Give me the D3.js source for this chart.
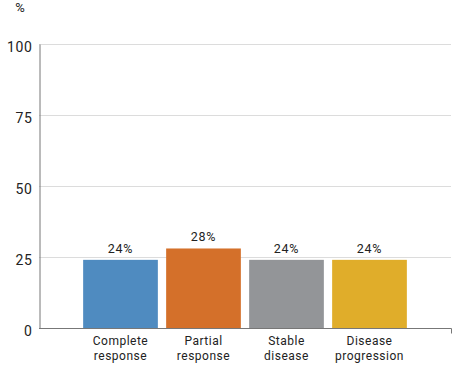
<!DOCTYPE html>
<html><head><meta charset="utf-8">
<script src="https://cdn.jsdelivr.net/npm/d3@7"></script>
<style>body{margin:0;background:#fff}svg text{font-family:Roboto,"DejaVu Sans",sans-serif;fill:#222}</style>
</head><body><svg id="c" width="459" height="369"></svg>
<script>
const categories = [["Complete","response"],["Partial","response"],["Stable","disease"],["Disease","progression"]];
const values = [24, 28, 24, 24];
const colors = ["#4F8BC0", "#D4702A", "#939598", "#E0AD2A"];
const yTicks = [0, 25, 50, 75, 100];

const svg = d3.select("#c");
const y = d3.scaleLinear().domain([0, 100]).range([328, 44]);
const x = d3.scaleBand().domain(d3.range(values.length)).range([79, 411]).paddingInner(0.1).paddingOuter(0.05);

// grid
svg.selectAll("line.grid").data(yTicks.filter(d => d > 0)).join("line")
  .attr("x1", 39).attr("x2", 451).attr("y1", d => y(d) + 0.5).attr("y2", d => y(d) + 0.5)
  .attr("stroke", "#dcdcdc").attr("stroke-width", 1);

// y axis
const yAxis = d3.axisLeft(y).tickValues(yTicks).tickSize(0).tickPadding(7);
const gy = svg.append("g").attr("transform", "translate(39.5,0)").call(yAxis);
gy.select(".domain").attr("stroke", "#777");
gy.selectAll("text").attr("font-size", 14).attr("dy", "0.55em").style("letter-spacing", "0.6px").attr("fill", "#222");

svg.append("text").attr("x", 20).attr("y", 12).attr("text-anchor", "middle").attr("font-size", 13).text("%");

// bars
svg.selectAll("rect.bar").data(values).join("rect")
  .attr("x", (d, i) => x(i)).attr("width", x.bandwidth())
  .attr("y", d => y(d)).attr("height", d => y(0) - y(d))
  .attr("fill", (d, i) => colors[i]);

// value labels
svg.selectAll("text.val").data(values).join("text")
  .attr("x", (d, i) => x(i) + x.bandwidth() / 2).attr("y", d => y(d) - 7)
  .attr("text-anchor", "middle").attr("font-size", 12.5).style("letter-spacing", "0.8px")
  .text(d => d + "%");

// x axis
const xAxis = d3.axisBottom(x).tickSize(0).tickFormat(() => "");
const gx = svg.append("g").attr("transform", "translate(0,328.5)").call(xAxis);
gx.select(".domain").attr("d", "M39,0H451.5V5").attr("stroke", "#777").attr("fill", "none");

svg.selectAll("text.cat").data(categories).join("text")
  .attr("text-anchor", "middle").attr("font-size", 12).style("letter-spacing", "0.5px")
  .attr("transform", (d, i) => `translate(${x(i) + x.bandwidth() / 2},0)`)
  .each(function(d) {
    d3.select(this).selectAll("tspan").data(d).join("tspan")
      .attr("x", 0).attr("y", (t, j) => 344.5 + j * 15).text(t => t);
  });
</script></body></html>
